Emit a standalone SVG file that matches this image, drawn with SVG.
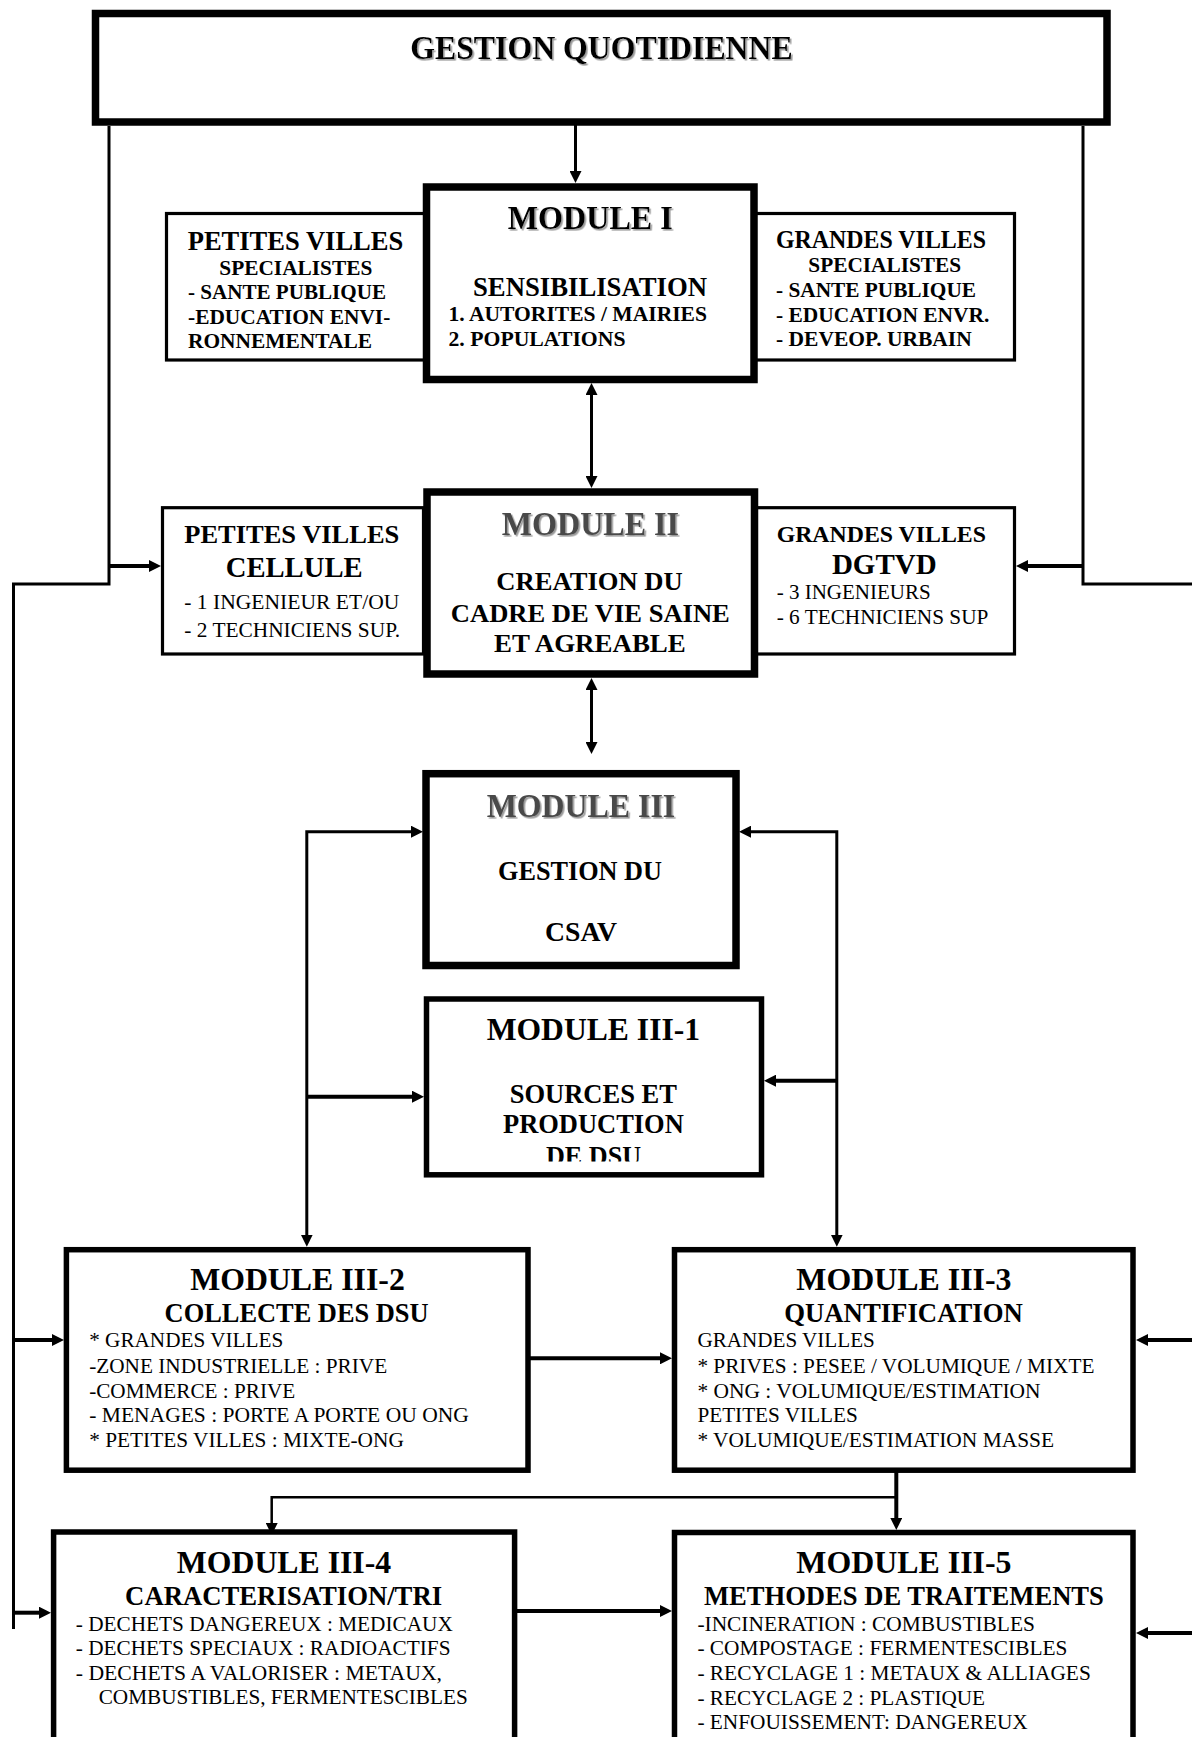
<svg xmlns="http://www.w3.org/2000/svg" width="1192" height="1737" viewBox="0 0 1192 1737">
<style>
text{font-family:"Liberation Serif","Times New Roman",serif;fill:#000}
.b{font-weight:bold}
.m{text-anchor:middle}
.g{fill:#4a4a4a}
.box{fill:#fff;stroke:#000}
.k8{stroke-width:7.5}
.k5{stroke-width:5.5}
.k3{stroke-width:3.2}
.c{fill:none;stroke:#000;stroke-width:3}
.c4{stroke-width:4}
.c2{stroke-width:2.5}
.ar{marker-end:url(#a)}
.ar2{marker-start:url(#a);marker-end:url(#a)}
.t32{font-size:32px}
.t27{font-size:27px}
.t21{font-size:21.5px}
.sh{filter:url(#sh)}
</style>
<defs>
<marker id="a" viewBox="0 0 12 12" refX="4" refY="6" markerWidth="12" markerHeight="12" markerUnits="userSpaceOnUse" orient="auto-start-reverse"><path d="M0,0 L12,6 L0,12 z" fill="#000"/></marker>
<filter id="sh" x="-5%" y="-20%" width="115%" height="160%"><feDropShadow dx="1.6" dy="1.6" stdDeviation="0.6" flood-color="#9a9a9a" flood-opacity="1"/></filter>
<clipPath id="clipdsu"><rect x="430" y="1100" width="330" height="61.5"/></clipPath>
</defs>

<g id="connectors">
<path class="c" d="M109,126 V584 H13.5 V1629"/>
<path class="c" d="M1083,126 V584 H1192"/>
<path class="c ar" d="M575.5,104 V175"/>
<path class="c ar2" d="M591.5,391 V480"/>
<path class="c ar2" d="M591.5,686 V746"/>
<path class="c c4 ar" d="M109,566 H153"/>
<path class="c c4 ar" d="M1083,566 H1024"/>
<path class="c ar2" d="M306.8,1238.7 V831.7 H415"/>
<path class="c c4 ar" d="M306.8,1096.7 H416"/>
<path class="c ar2" d="M747,831.7 H836.8 V1238.7"/>
<path class="c c4 ar" d="M836.8,1080.7 H772"/>
<path class="c c4 ar" d="M13.5,1340 H56"/>
<path class="c c4 ar" d="M13.5,1612.7 H43"/>
<path class="c c4 ar" d="M1192,1340 H1144"/>
<path class="c c4 ar" d="M1192,1633 H1144"/>
<path class="c c4 ar" d="M530,1358.3 H664"/>
<path class="c c4 ar" d="M896.3,1472 V1522"/>
<path class="c c2 ar" d="M896.3,1497.3 H271.7 V1527"/>
<path class="c c4 ar" d="M517,1611 H664"/>
</g>

<g id="gestion">
<rect class="box k8" x="95.5" y="13.5" width="1011.5" height="108.5"/>
<text class="b m sh" x="601.5" y="59.3" font-size="34" textLength="382.5" lengthAdjust="spacingAndGlyphs">GESTION QUOTIDIENNE</text>
</g>

<g id="pv1">
<rect class="box k3" x="166.5" y="213.5" width="260" height="146.5"/>
<text class="b m" x="295.5" y="250" font-size="26.5" textLength="215.6" lengthAdjust="spacingAndGlyphs">PETITES VILLES</text>
<text class="b m" x="295.8" y="275" font-size="22" textLength="153" lengthAdjust="spacingAndGlyphs">SPECIALISTES</text>
<text class="b" x="188" y="299" font-size="21" textLength="198" lengthAdjust="spacingAndGlyphs">- SANTE PUBLIQUE</text>
<text class="b" x="188" y="324" font-size="21" textLength="202.3" lengthAdjust="spacingAndGlyphs">-EDUCATION ENVI-</text>
<text class="b" x="188" y="348" font-size="21" textLength="184" lengthAdjust="spacingAndGlyphs">RONNEMENTALE</text>
</g>

<g id="gv1">
<rect class="box k3" x="754" y="213.5" width="260.5" height="146.5"/>
<text class="b m" x="881" y="248" font-size="25" textLength="210" lengthAdjust="spacingAndGlyphs">GRANDES VILLES</text>
<text class="b m" x="884.7" y="272" font-size="22" textLength="152.7" lengthAdjust="spacingAndGlyphs">SPECIALISTES</text>
<text class="b" x="776" y="297" font-size="21" textLength="200" lengthAdjust="spacingAndGlyphs">- SANTE PUBLIQUE</text>
<text class="b" x="776" y="322" font-size="21" textLength="213.3" lengthAdjust="spacingAndGlyphs">- EDUCATION ENVR.</text>
<text class="b" x="776" y="346" font-size="21" textLength="195.7" lengthAdjust="spacingAndGlyphs">- DEVEOP. URBAIN</text>
</g>

<g id="module1">
<rect class="box k8" x="426.5" y="187" width="327.5" height="192.5"/>
<text class="b m sh" x="590.3" y="229" font-size="33" textLength="165" lengthAdjust="spacingAndGlyphs">MODULE I</text>
<text class="b m" x="590" y="296" font-size="26.5" textLength="234" lengthAdjust="spacingAndGlyphs">SENSIBILISATION</text>
<text class="b" x="448.5" y="321" font-size="21.5" textLength="258.5" lengthAdjust="spacingAndGlyphs">1. AUTORITES / MAIRIES</text>
<text class="b" x="448.5" y="346" font-size="21.5" textLength="177" lengthAdjust="spacingAndGlyphs">2. POPULATIONS</text>
</g>

<g id="pv2">
<rect class="box k3" x="162.5" y="507.7" width="261" height="146.3"/>
<text class="b m" x="291.8" y="543" font-size="25" textLength="215" lengthAdjust="spacingAndGlyphs">PETITES VILLES</text>
<text class="b m" x="294.2" y="577" font-size="29" textLength="137" lengthAdjust="spacingAndGlyphs">CELLULE</text>
<text x="184.3" y="609" font-size="21.5" textLength="215" lengthAdjust="spacingAndGlyphs">- 1 INGENIEUR ET/OU</text>
<text x="184.3" y="637" font-size="21.5" textLength="215.7" lengthAdjust="spacingAndGlyphs">- 2 TECHNICIENS SUP.</text>
</g>

<g id="gv2">
<rect class="box k3" x="754.5" y="507.7" width="260" height="146.3"/>
<text class="b m" x="881.3" y="542" font-size="24" textLength="209.3" lengthAdjust="spacingAndGlyphs">GRANDES VILLES</text>
<text class="b m" x="884.3" y="574" font-size="29" textLength="104.7" lengthAdjust="spacingAndGlyphs">DGTVD</text>
<text x="776.7" y="599" font-size="21.5" textLength="154" lengthAdjust="spacingAndGlyphs">- 3 INGENIEURS</text>
<text x="776.7" y="624" font-size="21.5" textLength="211.7" lengthAdjust="spacingAndGlyphs">- 6 TECHNICIENS SUP</text>
</g>

<g id="module2">
<rect class="box k8" x="427" y="492" width="327.5" height="182"/>
<text class="b m g sh" x="590.4" y="535" font-size="33" textLength="177.3" lengthAdjust="spacingAndGlyphs">MODULE II</text>
<text class="b m" x="589.5" y="590" font-size="25.5" textLength="186.3" lengthAdjust="spacingAndGlyphs">CREATION DU</text>
<text class="b m" x="590.3" y="621.5" font-size="25.5" textLength="279" lengthAdjust="spacingAndGlyphs">CADRE DE VIE SAINE</text>
<text class="b m" x="589.9" y="651.5" font-size="25.5" textLength="191.7" lengthAdjust="spacingAndGlyphs">ET AGREABLE</text>
</g>

<g id="module3">
<rect class="box k8" x="426" y="773.7" width="310" height="191.8"/>
<text class="b m g sh" x="581" y="817" font-size="33.5" textLength="188.6" lengthAdjust="spacingAndGlyphs">MODULE III</text>
<text class="b m" x="580" y="880" font-size="27.5" textLength="164" lengthAdjust="spacingAndGlyphs">GESTION DU</text>
<text class="b m" x="581" y="940.7" font-size="26.5" textLength="71.8" lengthAdjust="spacingAndGlyphs">CSAV</text>
</g>

<g id="module3-1">
<rect class="box k5" x="426.5" y="999" width="335" height="175.8"/>
<text class="b m" x="593.4" y="1040" font-size="31.5" textLength="213.5" lengthAdjust="spacingAndGlyphs">MODULE III-1</text>
<text class="b m t27" x="593.3" y="1103" textLength="167.3" lengthAdjust="spacingAndGlyphs">SOURCES ET</text>
<text class="b m t27" x="593.4" y="1133" textLength="180.7" lengthAdjust="spacingAndGlyphs">PRODUCTION</text>
<text class="b m t27" x="593.5" y="1165" textLength="95" lengthAdjust="spacingAndGlyphs" clip-path="url(#clipdsu)">DE DSU</text>
</g>

<g id="module3-2">
<rect class="box k5" x="66.4" y="1249.7" width="461.6" height="220.5"/>
<text class="b m" x="297.5" y="1290" font-size="31.5" textLength="214.7" lengthAdjust="spacingAndGlyphs">MODULE III-2</text>
<text class="b m t27" x="296.6" y="1321.7" textLength="264" lengthAdjust="spacingAndGlyphs">COLLECTE DES DSU</text>
<text class="t21" x="89.2" y="1347.3" textLength="194" lengthAdjust="spacingAndGlyphs">* GRANDES VILLES</text>
<text class="t21" x="89.2" y="1372.7" textLength="298" lengthAdjust="spacingAndGlyphs">-ZONE INDUSTRIELLE : PRIVE</text>
<text class="t21" x="89.2" y="1397.7" textLength="206" lengthAdjust="spacingAndGlyphs">-COMMERCE : PRIVE</text>
<text class="t21" x="89.2" y="1421.7" textLength="379.6" lengthAdjust="spacingAndGlyphs">- MENAGES : PORTE A PORTE OU ONG</text>
<text class="t21" x="89.2" y="1447.3" textLength="314.6" lengthAdjust="spacingAndGlyphs">* PETITES VILLES : MIXTE-ONG</text>
</g>

<g id="module3-3">
<rect class="box k5" x="674.5" y="1249.7" width="458.5" height="220.5"/>
<text class="b m" x="903.9" y="1290" font-size="31.5" textLength="215.2" lengthAdjust="spacingAndGlyphs">MODULE III-3</text>
<text class="b m t27" x="903.5" y="1321.7" textLength="238.6" lengthAdjust="spacingAndGlyphs">QUANTIFICATION</text>
<text class="t21" x="697.4" y="1347.3" textLength="177.4" lengthAdjust="spacingAndGlyphs">GRANDES VILLES</text>
<text class="t21" x="697.4" y="1372.7" textLength="397" lengthAdjust="spacingAndGlyphs">* PRIVES : PESEE / VOLUMIQUE / MIXTE</text>
<text class="t21" x="697.4" y="1397.7" textLength="343.2" lengthAdjust="spacingAndGlyphs">* ONG : VOLUMIQUE/ESTIMATION</text>
<text class="t21" x="697.4" y="1421.7" textLength="160.4" lengthAdjust="spacingAndGlyphs">PETITES VILLES</text>
<text class="t21" x="697.4" y="1447.3" textLength="356.7" lengthAdjust="spacingAndGlyphs">* VOLUMIQUE/ESTIMATION MASSE</text>
</g>

<g id="module3-4">
<rect class="box k5" x="53.6" y="1532" width="461" height="260"/>
<text class="b m" x="284" y="1573.3" font-size="31.5" textLength="214.3" lengthAdjust="spacingAndGlyphs">MODULE III-4</text>
<text class="b m t27" x="283.6" y="1605" textLength="317" lengthAdjust="spacingAndGlyphs">CARACTERISATION/TRI</text>
<text class="t21" x="75.8" y="1630.7" textLength="377" lengthAdjust="spacingAndGlyphs">- DECHETS DANGEREUX : MEDICAUX</text>
<text class="t21" x="75.8" y="1655" textLength="374.7" lengthAdjust="spacingAndGlyphs">- DECHETS SPECIAUX : RADIOACTIFS</text>
<text class="t21" x="75.8" y="1680" textLength="366.2" lengthAdjust="spacingAndGlyphs">- DECHETS A VALORISER : METAUX,</text>
<text class="t21" x="98.7" y="1704" textLength="369" lengthAdjust="spacingAndGlyphs">COMBUSTIBLES, FERMENTESCIBLES</text>
</g>

<g id="module3-5">
<rect class="box k5" x="674.5" y="1532.5" width="458.5" height="260"/>
<text class="b m" x="903.9" y="1573.3" font-size="31.5" textLength="215.2" lengthAdjust="spacingAndGlyphs">MODULE III-5</text>
<text class="b m t27" x="903.9" y="1605" textLength="400" lengthAdjust="spacingAndGlyphs">METHODES DE TRAITEMENTS</text>
<text class="t21" x="697.4" y="1630.7" textLength="337.5" lengthAdjust="spacingAndGlyphs">-INCINERATION : COMBUSTIBLES</text>
<text class="t21" x="697.4" y="1655" textLength="370" lengthAdjust="spacingAndGlyphs">- COMPOSTAGE : FERMENTESCIBLES</text>
<text class="t21" x="697.4" y="1680" textLength="393.4" lengthAdjust="spacingAndGlyphs">- RECYCLAGE 1 : METAUX &amp; ALLIAGES</text>
<text class="t21" x="697.4" y="1704.5" textLength="287.7" lengthAdjust="spacingAndGlyphs">- RECYCLAGE 2 : PLASTIQUE</text>
<text class="t21" x="697.4" y="1729" textLength="330.3" lengthAdjust="spacingAndGlyphs">- ENFOUISSEMENT: DANGEREUX</text>
</g>
</svg>
